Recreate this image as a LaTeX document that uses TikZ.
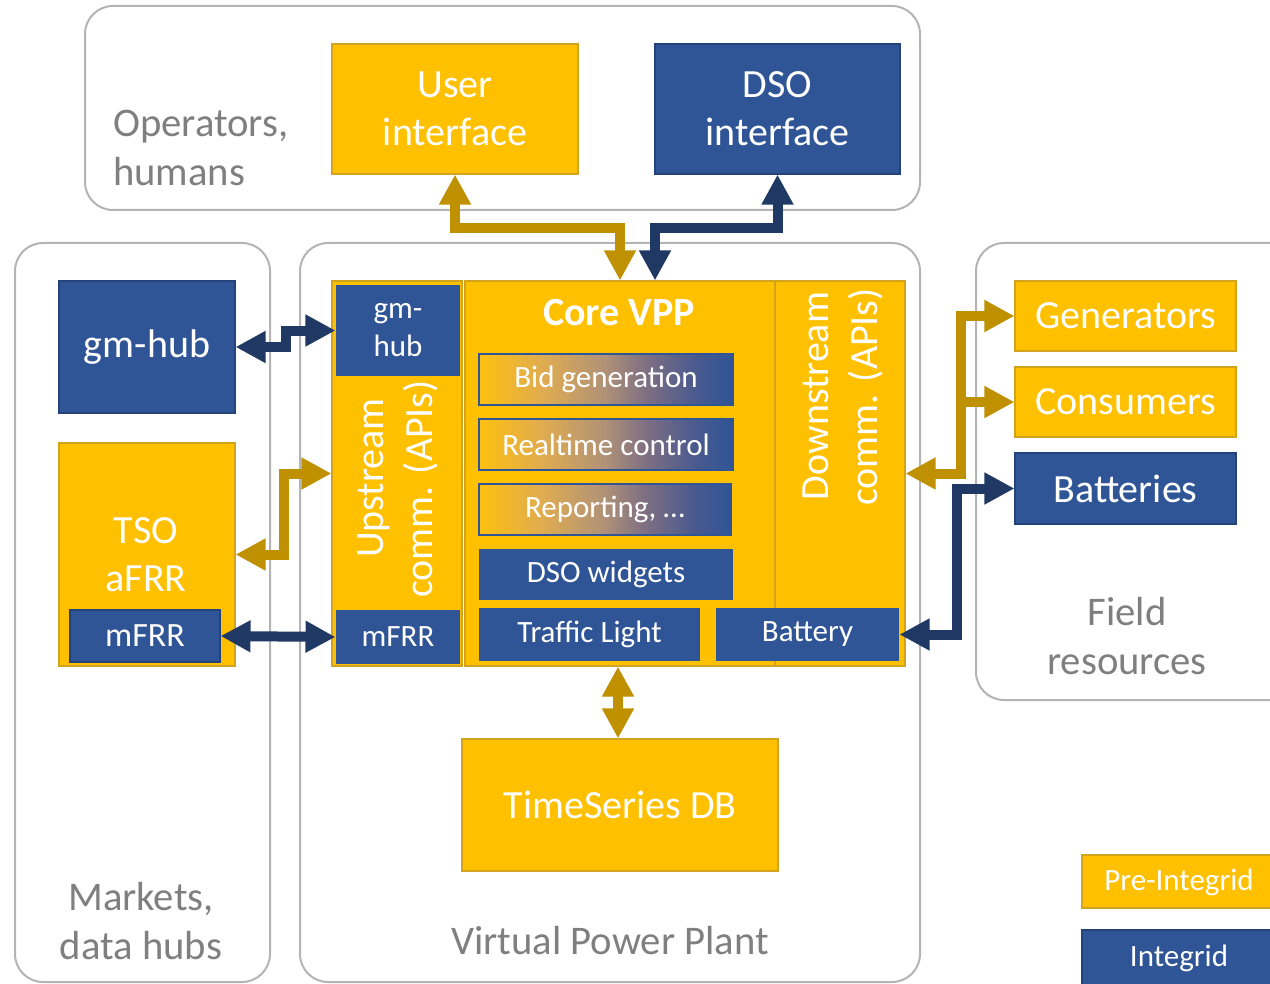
\documentclass[tikz,border=0pt]{standalone}
\usepackage{fontspec}
\setmainfont{Carlito}
\usetikzlibrary{arrows.meta,calc}
\definecolor{ylw}{HTML}{FFC000}
\definecolor{ylwb}{HTML}{D2A41E}
\definecolor{blu}{HTML}{2F5597}
\definecolor{blub}{HTML}{24437A}
\definecolor{gold}{HTML}{BF9000}
\definecolor{navy}{HTML}{203864}
\definecolor{grayline}{HTML}{B4B4B4}
\definecolor{graytxt}{HTML}{7F7F7F}
\pgfdeclarehorizontalshading{ybgrad}{100bp}{rgb(0bp)=(0.992,0.753,0.063); rgb(25bp)=(0.992,0.753,0.063); rgb(37.5bp)=(0.878,0.675,0.314); rgb(50bp)=(0.686,0.569,0.471); rgb(57.5bp)=(0.502,0.439,0.510); rgb(67.5bp)=(0.290,0.353,0.557); rgb(75bp)=(0.184,0.333,0.592); rgb(100bp)=(0.184,0.333,0.592)}
\newcommand\bx[7]{\node[#6, minimum width={(#4-#2)*0.75pt}, minimum height={(#5-#3)*0.75pt}] (#1) at ({(#2+#4)/2},{(#3+#5)/2}) {#7};}
\newcommand\bigf{\fontsize{30pt}{36pt}\selectfont}
\newcommand\smallf{\fontsize{23.25pt}{28.5pt}\selectfont}
\newcommand\lblf{\fontsize{30.5pt}{36.5pt}\selectfont}
\begin{document}
\begin{tikzpicture}[x=0.75pt,y=-0.75pt,
  group/.style={draw=grayline, line width=1.5pt, rounded corners=21pt, inner sep=0pt},
  ybox/.style={draw=ylwb, fill=ylw, line width=0.8pt, text=white, inner sep=0pt, align=center},
  bbox/.style={draw=blub, fill=blu, line width=0.8pt, text=white, inner sep=0pt, align=center},
  gbox/.style={draw=blu, line width=0.8pt, shading=ybgrad, shading angle=0, text=white, inner sep=0pt, align=center},
  lbl/.style={text=graytxt, font=\lblf, inner sep=0pt},
  vtxt/.style={rotate=90, text=white, font=\bigf, inner sep=0pt},
  tip/.tip={Triangle[length=22.5pt,width=22.5pt]},
  garr/.style={draw=gold, line width=7.5pt, tip-tip},
  narr/.style={draw=navy, line width=7.5pt, tip-tip},
]
\useasboundingbox (0,0) rectangle (1270,984);
\clip (0,0) rectangle (1270,984);
% groups
\bx{ops}{85}{6}{920}{210}{group}{}
\bx{markets}{15}{243}{270}{982}{group}{}
\bx{vpp}{300}{243}{920}{982}{group}{}
\bx{field}{976}{243}{1300}{700}{group}{}
\node[lbl, anchor=west, align=left] (opsl) at (113,148) {Operators,\\humans};
\node[lbl, align=center] (marketsl) at (141,921) {Markets,\\data hubs};
\node[lbl] (vppl) at (610,941) {Virtual Power Plant};
\node[lbl, align=center] (fieldl) at (1127,636) {Field\\resources};
% top
\bx{ui}{332}{44}{578}{174}{ybox, font=\bigf}{User\\interface}
\bx{dso}{655}{44}{900}{174}{bbox, font=\bigf}{DSO\\interface}
% markets
\bx{gmhub}{59}{281}{235}{413}{bbox, font=\bigf}{gm-hub}
\bx{tso}{59}{443}{235}{666}{ybox}{}
\node[text=white, font=\bigf, align=center] (tsol) at (146,555) {TSO\\aFRR};
\bx{mfrrL}{70}{610}{220}{662}{bbox, font=\fontsize{25.5pt}{30pt}\selectfont}{mFRR}
% vpp
\bx{upcol}{332}{281}{462}{666}{ybox}{}
\bx{core}{465}{281}{775}{666}{ybox}{}
\bx{down}{775}{281}{905}{666}{ybox}{}
\bx{uphub}{336}{285}{460}{376}{bbox, draw=none, font=\smallf}{gm-\\hub}
\bx{mfrrU}{336}{610}{460}{664}{bbox, draw=none, font=\smallf}{mFRR}
\node[vtxt] (upl1) at (374,478) {Upstream};
\node[vtxt] (upl2) at (421,489) {comm. (APIs)};
\node[vtxt] (downl1) at (816,396) {Downstream};
\node[vtxt] (downl2) at (866,397) {comm. (APIs)};
\node[text=white, font=\fontsize{30pt}{36pt}\selectfont\bfseries] (corel) at (619,313) {Core VPP};
\bx{bid}{479}{354}{733}{405}{gbox, font=\smallf}{Bid generation}
\bx{rt}{479}{419}{733}{470}{gbox, font=\smallf}{Realtime control}
\bx{rep}{479}{484}{731}{535}{gbox, font=\smallf}{Reporting, \dots}
\bx{dsow}{479}{549}{733}{600}{bbox, draw=none, font=\smallf}{DSO widgets}
\bx{tl}{479}{608}{700}{661}{bbox, draw=none, font=\smallf}{Traffic Light}
\bx{battery}{716}{608}{899}{661}{bbox, draw=none, font=\smallf}{Battery}
\bx{ts}{462}{739}{778}{871}{ybox, font=\bigf}{TimeSeries DB}
% field
\bx{gen}{1015}{281}{1236}{351}{ybox, font=\bigf}{Generators}
\bx{cons}{1015}{367}{1236}{437}{ybox, font=\bigf}{Consumers}
\bx{batt}{1015}{453}{1236}{524}{bbox, font=\bigf}{Batteries}
% legend
\bx{lpre}{1082}{855}{1290}{908}{ybox, font=\smallf}{}
\node[text=white, font=\smallf] (lprel) at (1179,882) {Pre-Integrid};
\bx{lint}{1082}{930}{1290}{990}{bbox, font=\smallf}{}
\node[text=white, font=\smallf] (lintl) at (1179,958) {Integrid};
% arrows
\draw[narr] (gmhub.east) -- ++(50,0) |- (uphub.west);
\draw[garr] (tso.east) -- ++(48,0) |- (upcol.west);
\draw[narr] (mfrrL.east) -- (mfrrU.west);
\draw[garr] (ui.south) -- ++(0,53) -| (core.north);
\draw[narr] (dso.south) -- ++(0,53) -| ($(core.north)+(35,0)$);
\coordinate (dj) at ($(down.east)+(55,0)$);
\draw[garr] (down.east) -- (dj) |- (gen.west);
\draw[draw=gold, line width=7.5pt, -tip] (dj |- cons.west) -- (cons.west);
\draw[narr] (battery.east) -- ++(57,0) |- (batt.west);
\draw[garr] (ts.north -| 618,0) -- (core.south -| 618,0);
\end{tikzpicture}
\end{document}
